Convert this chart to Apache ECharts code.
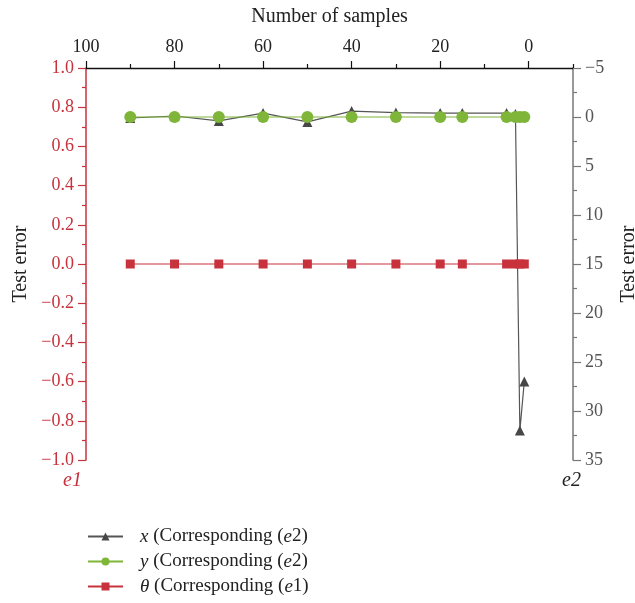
<html>
<head>
<meta charset="utf-8">
<script src="https://cdn.jsdelivr.net/npm/echarts@6/dist/echarts.min.js"></script>
</head>
<body style="margin:0">
<div id="chart" style="width:635px;height:603px;"></div>
<script type="text/javascript">
    // number of samples (x values)
    var samples = [90, 80, 70, 60, 50, 40, 30, 20, 15, 5, 3, 2, 1];
    // x series, read against right axis (e2)
    var xErr = [0.1, -0.1, 0.4, -0.4, 0.5, -0.6, -0.45, -0.4, -0.4, -0.4, -0.3, 32, 27];
    // y series, right axis (e2)
    var yErr = [0, 0, 0, 0, 0, 0, 0, 0, 0, 0, 0, 0, 0];
    // theta series, left axis (e1)
    var thetaErr = [0, 0, 0, 0, 0, 0, 0, 0, 0, 0, 0, 0, 0];
    // top axis ticks
    var majorTicks = [0, 20, 40, 60, 80, 100];
    var minorTicks = [-10, 10, 30, 50, 70, 90];

    var red = '#c8323c';
    var green = '#7fb539';
    var gray = '#474747';
    var serif = '"Liberation Serif", "DejaVu Serif", serif';

    function pairs(xs, ys) {
        var out = [];
        for (var i = 0; i < xs.length; i++) out.push([xs[i], ys[i]]);
        return out;
    }
    function minus(s) { return String(s).replace('-', '\u2212'); }

    var myChart = echarts.init(document.getElementById('chart'));
    var rich = { i: { fontStyle: 'italic', fontFamily: serif, fontSize: 19, color: '#222' } };

    var options = {
        animation: false,
        textStyle: { fontFamily: serif },
        grid: { left: 86, right: 62, top: 68, bottom: 143, outerBoundsMode: 'none', containLabel: false },
        xAxis: [{
            type: 'value', position: 'top', inverse: true,
            min: -10, max: 100,
            name: 'Number of samples', nameLocation: 'middle', nameGap: 41,
            nameTextStyle: { fontSize: 20, color: '#222', fontFamily: serif },
            axisLine: { onZero: false, lineStyle: { color: '#111', width: 1.3 } },
            axisTick: { inside: false, length: 7, customValues: majorTicks, lineStyle: { color: '#111', width: 1.2 } },
            axisLabel: {
                fontSize: 18, color: '#222', margin: 12, fontFamily: serif,
                customValues: majorTicks
            },
            splitLine: { show: false }
        }, {
            type: 'value', position: 'top', inverse: true,
            min: -10, max: 100,
            axisLine: { show: false, onZero: false },
            axisTick: { inside: false, length: 4, customValues: minorTicks, lineStyle: { color: '#111', width: 1.2 } },
            axisLabel: { show: false },
            splitLine: { show: false }
        }],
        yAxis: [{
            type: 'value', position: 'left', min: -1, max: 1, interval: 0.2,
            name: 'Test error', nameLocation: 'middle', nameGap: 55, nameRotate: 90,
            nameTextStyle: { fontSize: 20, color: '#222', fontFamily: serif },
            axisLine: { show: true, onZero: false, lineStyle: { color: red, width: 1.5 } },
            axisTick: { show: true, length: 8, lineStyle: { color: red, width: 1.2 } },
            minorTick: { show: true, splitNumber: 2, length: 4, lineStyle: { color: red, width: 1.2 } },
            axisLabel: {
                fontSize: 18, color: red, margin: 12, fontFamily: serif,
                formatter: function (v) { return minus(v.toFixed(1)); }
            },
            splitLine: { show: false }
        }, {
            type: 'value', position: 'right', min: -5, max: 35, interval: 5, inverse: true,
            name: 'Test error', nameLocation: 'middle', nameGap: 46, nameRotate: 90,
            nameTextStyle: { fontSize: 20, color: '#222', fontFamily: serif },
            axisLine: { show: true, onZero: false, lineStyle: { color: '#777', width: 1.5 } },
            axisTick: { show: true, length: 8, lineStyle: { color: '#777', width: 1.2 } },
            minorTick: { show: true, splitNumber: 2, length: 4, lineStyle: { color: '#777', width: 1.2 } },
            axisLabel: {
                fontSize: 18, color: '#555', margin: 12, fontFamily: serif,
                formatter: function (v) { return minus(v); }
            },
            splitLine: { show: false }
        }],
        legend: {
            orient: 'vertical', left: 82, top: 522, itemGap: 6,
            itemWidth: 35, itemHeight: 10,
            textStyle: { fontSize: 19, color: '#222', fontFamily: serif, padding: [0, 0, 0, 12], rich: rich },
            formatter: function (name) {
                if (name === 'x') return '{i|x} (Corresponding ({i|e}2)';
                if (name === 'y') return '{i|y} (Corresponding ({i|e}2)';
                return '{i|\u03b8} (Corresponding ({i|e}1)';
            },
            data: ['x', 'y', '\u03b8']
        },
        graphic: [
            { type: 'text', left: 63, top: 471, style: { text: 'e1', fill: red, fontSize: 20, fontStyle: 'italic', fontFamily: serif } },
            { type: 'text', left: 562, top: 471, style: { text: 'e2', fill: '#222', fontSize: 20, fontStyle: 'italic', fontFamily: serif } }
        ],
        series: [{
            name: 'x', type: 'line', yAxisIndex: 1,
            data: pairs(samples, xErr),
            symbol: 'triangle', symbolSize: 10,
            itemStyle: { color: gray },
            lineStyle: { color: '#555', width: 1.2 }
        }, {
            name: 'y', type: 'line', yAxisIndex: 1,
            data: pairs(samples, yErr),
            symbol: 'circle', symbolSize: 12,
            itemStyle: { color: green },
            lineStyle: { color: green, width: 1.2 }
        }, {
            name: '\u03b8', type: 'line', yAxisIndex: 0,
            data: pairs(samples, thetaErr),
            symbol: 'rect', symbolSize: 9,
            itemStyle: { color: red },
            lineStyle: { color: red, width: 1.2 }
        }]
    };

    myChart.setOption(options);
</script>
</body>
</html>
